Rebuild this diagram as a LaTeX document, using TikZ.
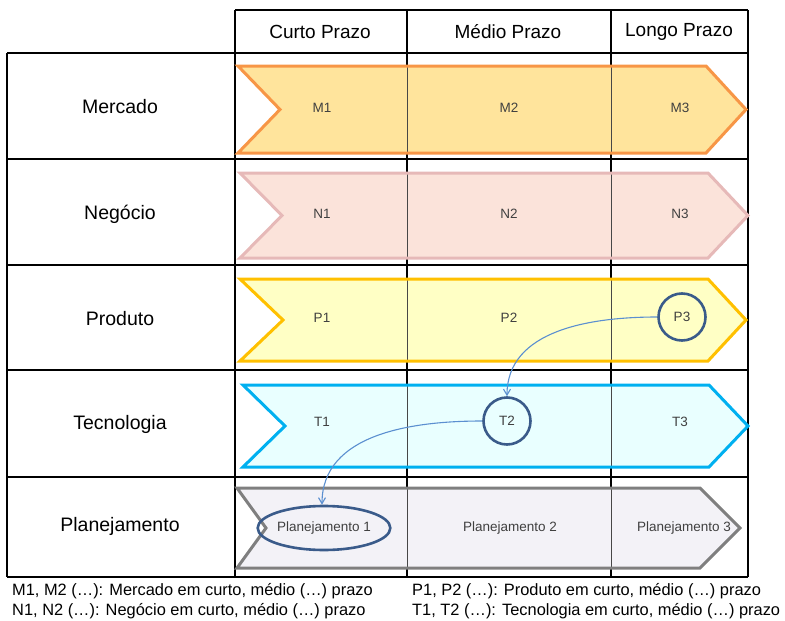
\documentclass[tikz,border=0pt]{standalone}
\usepackage{fontspec}
\setmainfont{Liberation Sans}
\usetikzlibrary{shapes.geometric,arrows.meta}
\definecolor{mfill}{HTML}{FFE49C}
\definecolor{mdraw}{HTML}{F79646}
\definecolor{nfill}{HTML}{FBE3DA}
\definecolor{ndraw}{HTML}{E6B9B8}
\definecolor{pfill}{HTML}{FFFFC5}
\definecolor{pdraw}{HTML}{FFC000}
\definecolor{tfill}{HTML}{E9FFFF}
\definecolor{tdraw}{HTML}{00B0F0}
\definecolor{lfill}{HTML}{F3F2F7}
\definecolor{ldraw}{HTML}{7F7F7F}
\definecolor{ring}{HTML}{3A5B8A}
\definecolor{link}{HTML}{5B8FD0}
\definecolor{txt}{HTML}{404040}
\newcommand\chevron[8]{%
  \fill[#7] (#3,#1) -- (#5,#1) -- (#6,{(#1+#2)/2}) -- (#5,#2) -- (#3,#2) -- (#4,{(#1+#2)/2}) -- cycle;
  \draw[innerline] (407,#1) -- (407,#2) (611,#1) -- (611,#2);
  \draw[draw=#8, line width=3, line join=miter]
    (#3,#1) -- (#5,#1) -- (#6,{(#1+#2)/2}) -- (#5,#2) -- (#3,#2) -- (#4,{(#1+#2)/2}) -- cycle;}
\tikzset{
  grid/.style={line width=1.4, black},
  innerline/.style={line width=1, black!72},
  hdr/.style={font=\fontsize{19}{22}\selectfont, inner sep=0},
  rowlbl/.style={font=\fontsize{19.5}{22}\selectfont, inner sep=0},
  cell/.style={font=\fontsize{13.5}{16}\selectfont, text=txt, inner sep=0},
  plan/.style={font=\fontsize{13.5}{16}\selectfont, text=txt, inner sep=0},
  ringc/.style={circle, draw=ring, line width=2.6, minimum size=47, inner sep=0, font=\fontsize{13.5}{16}\selectfont, text=txt},
  ringe/.style={ellipse, draw=ring, line width=2.6, minimum width=124, minimum height=44, inner sep=0, font=\fontsize{13.5}{16}\selectfont, text=txt},
  link/.style={draw=link, line width=1.1, -{Straight Barb[length=6pt,width=7pt]}},
  legend/.style={font=\fontsize{16.4}{19}\selectfont, anchor=west, inner sep=0}
}
\begin{document}
\begin{tikzpicture}[x=1pt,y=-1pt]
\useasboundingbox (0,0) rectangle (785,621);
% table
\draw[grid] (235,10) -- (748,10);
\foreach \yy in {53,159,265,370,477,577} \draw[grid] (7,\yy) -- (748,\yy);
\draw[grid] (7,53) -- (7,577);
\foreach \xx in {235,407,611,748} \draw[grid] (\xx,10) -- (\xx,577);
% headers
\node[hdr] (hc) at (320,32) {Curto Prazo};
\node[hdr] (hm) at (508,32) {Médio Prazo};
\node[hdr] (hl) at (679,32) {Longo Prazo};
% row labels
\node[rowlbl] (rm) at (120,107) {Mercado};
\node[rowlbl] (rn) at (120,214) {Negócio};
\node[rowlbl] (rp) at (120,319) {Produto};
\node[rowlbl] (rt) at (120,424) {Tecnologia};
\node[rowlbl] (rl) at (120,526) {Planejamento};
% chevrons
\chevron{66}{153}{238}{280}{706}{746}{mfill}{mdraw}
\chevron{173}{258}{240}{282}{708}{748}{nfill}{ndraw}
\chevron{279}{361}{240}{283}{708}{746}{pfill}{pdraw}
\chevron{385}{467}{243}{285}{709}{748}{tfill}{tdraw}
\chevron{488}{568}{237}{266}{700}{740}{lfill}{ldraw}
% cell labels
\node[cell] (m1) at (322,108) {M1};
\node[cell] (m2) at (509,108) {M2};
\node[cell] (m3) at (680,108) {M3};
\node[cell] (n1) at (322,214) {N1};
\node[cell] (n2) at (509,214) {N2};
\node[cell] (n3) at (680,214) {N3};
\node[cell] (p1) at (322,318) {P1};
\node[cell] (p2) at (509,318) {P2};
\node[ringc] (p3) at (682,317) {P3};
\node[cell] (t1) at (322,422) {T1};
\node[ringc] (t2) at (507,421) {T2};
\node[cell] (t3) at (680,422) {T3};
\node[ringe] (l1) at (324,528) {Planejamento 1};
\node[plan] (l2) at (510,528) {Planejamento 2};
\node[plan] (l3) at (684,528) {Planejamento 3};
% connectors
\draw[link] (p3.west) to[out=180,in=90] (t2.north);
\draw[link] (t2.west) to[out=180,in=90] ([xshift=-2pt]l1.north);
% legend
\node[legend] (g1) at (12,591) {M1, M2 (…): Mercado em curto, médio (…) prazo};
\node[legend] (g2) at (12,611) {N1, N2 (…): Negócio em curto, médio (…) prazo};
\node[legend] (g3) at (412,591) {P1, P2 (…): Produto em curto, médio (…) prazo};
\node[legend] (g4) at (412,611) {T1, T2 (…): Tecnologia em curto, médio (…) prazo};
\end{tikzpicture}
\end{document}
